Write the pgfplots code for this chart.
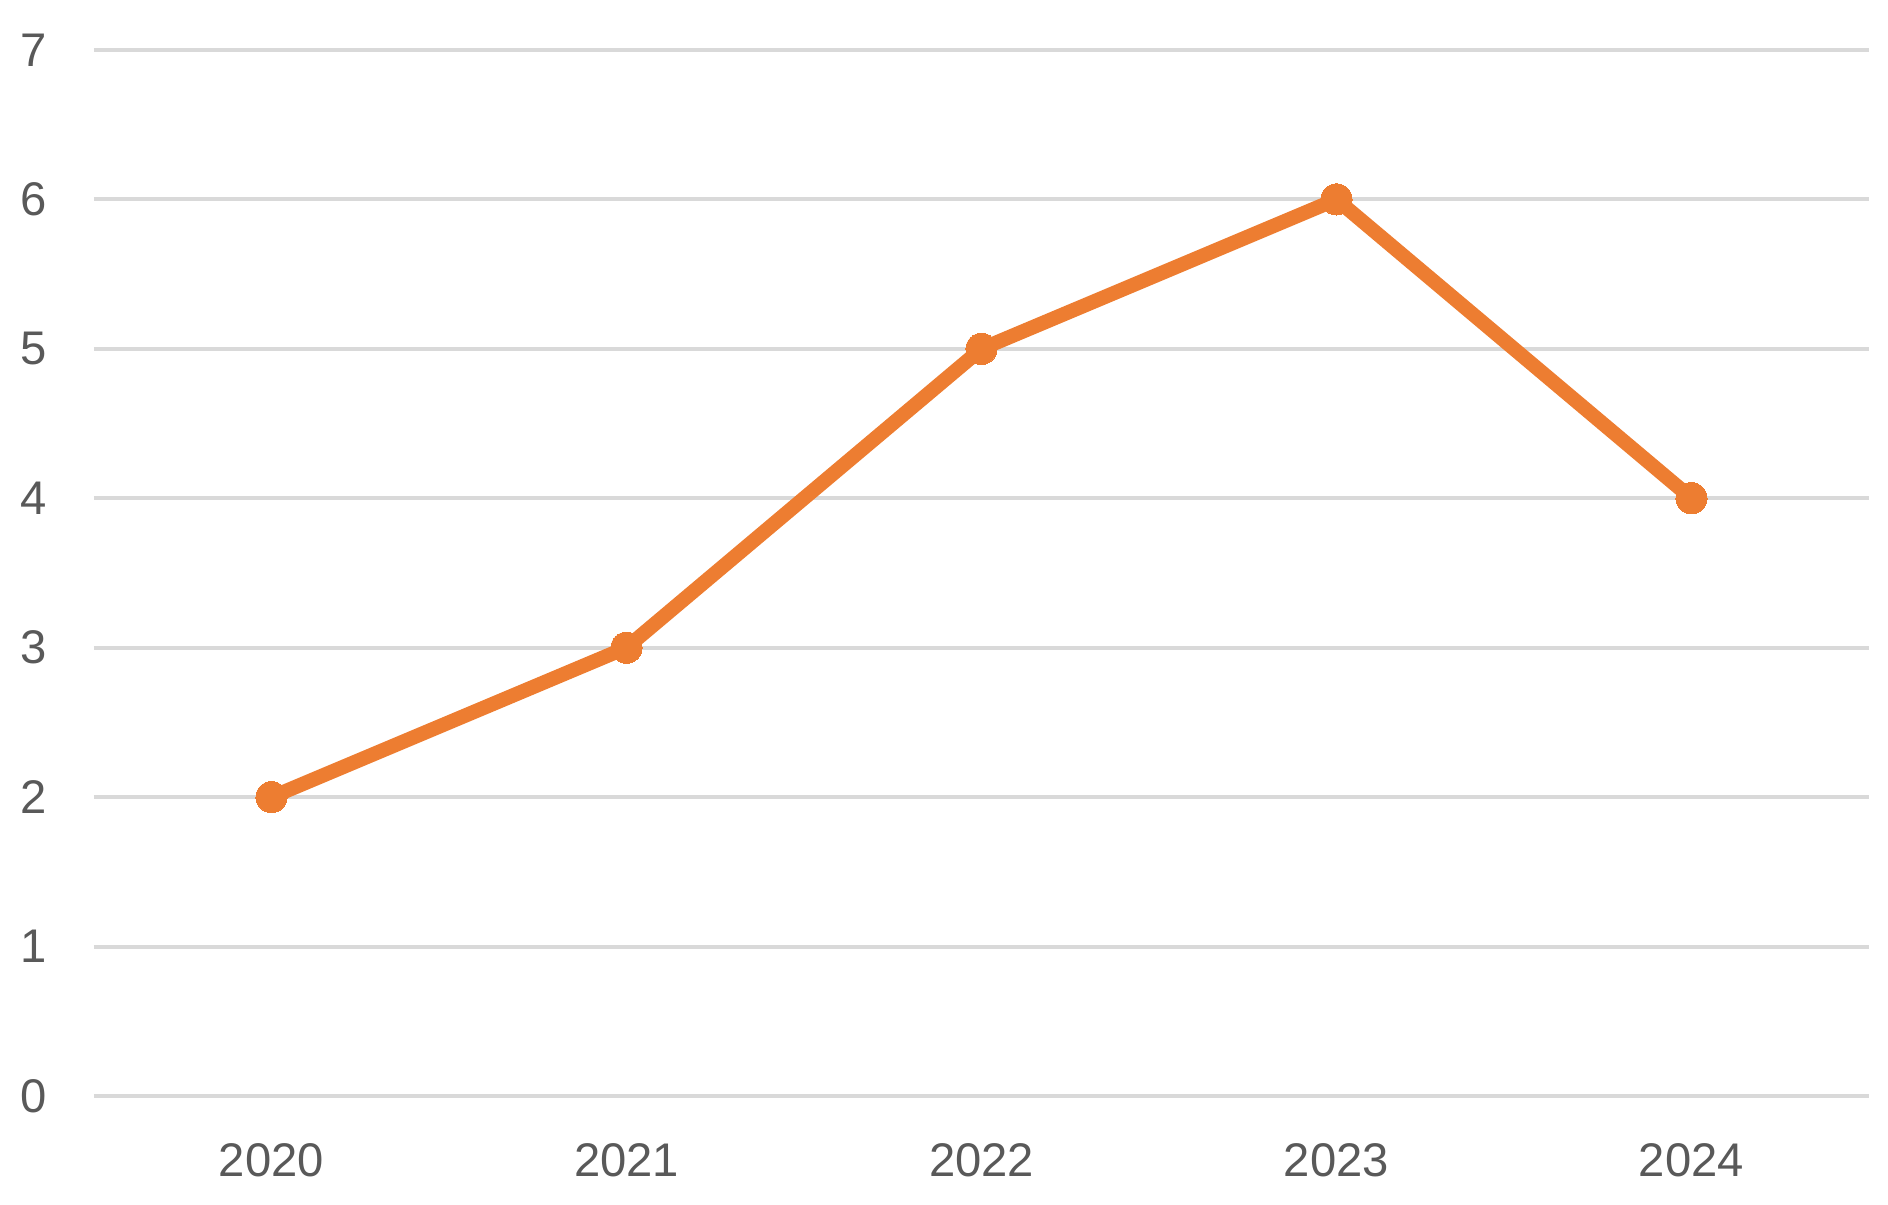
\documentclass[border=0pt]{standalone}
\usepackage{pgfplots}
\pgfplotsset{compat=1.18}
\usepackage{fontspec}
\setmainfont{Liberation Sans}
\definecolor{lineor}{HTML}{ED7D31}
\definecolor{gridc}{HTML}{D9D9D9}
\definecolor{txt}{HTML}{595959}
\begin{document}
\begin{tikzpicture}
\begin{axis}[
  scale only axis,
  width=443.75pt, height=261.5pt,
  xmin=-0.5, xmax=4.5, ymin=0, ymax=7,
  xtick={0,1,2,3,4},
  xticklabels={2020,2021,2022,2023,2024},
  ytick={0,1,2,3,4,5,6,7},
  axis line style={draw=none},
  major tick length=0pt,
  ymajorgrids, grid style={gridc, line width=1pt},
  tick label style={font=\fontsize{11.8}{14}\selectfont, text=txt, inner sep=0pt},
  /pgf/number format/assume math mode=true,
  yticklabel style={anchor=east, xshift=-11.5pt},
  xticklabel style={anchor=north, yshift=-11.75pt},
  clip=false,
]
\addplot[lineor, line width=3.6pt, line join=round, mark=*, mark size=3.9pt, mark options={fill=lineor, draw=lineor, line width=0pt}]
  coordinates {(0,2) (1,3) (2,5) (3,6) (4,4)};
\coordinate (ll) at (rel axis cs:0,0);
\coordinate (ur) at (rel axis cs:1,1);
\end{axis}
\pgfresetboundingbox
\path[use as bounding box] ([xshift=-23.5pt,yshift=-27.25pt]ll) rectangle ([xshift=4.75pt,yshift=12.5pt]ur);
\end{tikzpicture}
\end{document}
